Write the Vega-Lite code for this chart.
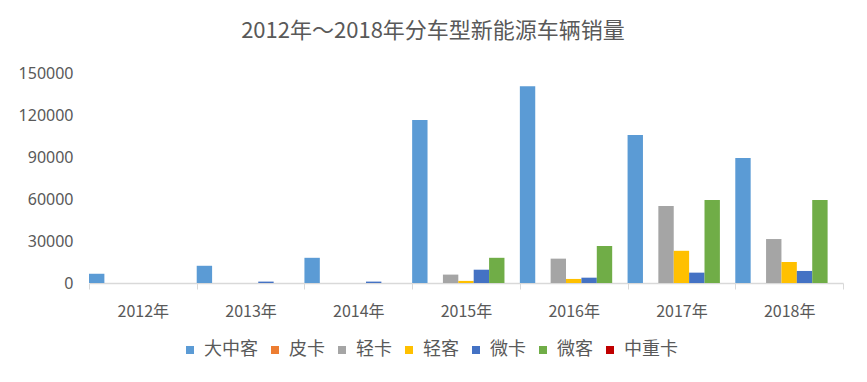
{
  "$schema": "https://vega.github.io/schema/vega-lite/v6.json",
  "width": 754,
  "height": 210,
  "autosize": "none",
  "padding": {"left": 89, "top": 73, "right": 24, "bottom": 99},
  "background": "white",
  "title": {
    "text": "2012年～2018年分车型新能源车辆销量",
    "anchor": "middle",
    "frame": "group",
    "dx": -33,
    "offset": 22,
    "font": "Noto Sans CJK SC",
    "fontSize": 22,
    "fontWeight": "normal",
    "color": "#595959"
  },
  "data": {
    "values": [
      {"year": "2012年", "type": "大中客", "sales": 6600},
      {"year": "2012年", "type": "皮卡", "sales": 0},
      {"year": "2012年", "type": "轻卡", "sales": 0},
      {"year": "2012年", "type": "轻客", "sales": 0},
      {"year": "2012年", "type": "微卡", "sales": 0},
      {"year": "2012年", "type": "微客", "sales": 0},
      {"year": "2012年", "type": "中重卡", "sales": 0},
      {"year": "2013年", "type": "大中客", "sales": 12300},
      {"year": "2013年", "type": "皮卡", "sales": 0},
      {"year": "2013年", "type": "轻卡", "sales": 0},
      {"year": "2013年", "type": "轻客", "sales": 0},
      {"year": "2013年", "type": "微卡", "sales": 1000},
      {"year": "2013年", "type": "微客", "sales": 0},
      {"year": "2013年", "type": "中重卡", "sales": 0},
      {"year": "2014年", "type": "大中客", "sales": 18000},
      {"year": "2014年", "type": "皮卡", "sales": 0},
      {"year": "2014年", "type": "轻卡", "sales": 0},
      {"year": "2014年", "type": "轻客", "sales": 0},
      {"year": "2014年", "type": "微卡", "sales": 1000},
      {"year": "2014年", "type": "微客", "sales": 0},
      {"year": "2014年", "type": "中重卡", "sales": 0},
      {"year": "2015年", "type": "大中客", "sales": 116500},
      {"year": "2015年", "type": "皮卡", "sales": 0},
      {"year": "2015年", "type": "轻卡", "sales": 6000},
      {"year": "2015年", "type": "轻客", "sales": 1500},
      {"year": "2015年", "type": "微卡", "sales": 9500},
      {"year": "2015年", "type": "微客", "sales": 18000},
      {"year": "2015年", "type": "中重卡", "sales": 0},
      {"year": "2016年", "type": "大中客", "sales": 140600},
      {"year": "2016年", "type": "皮卡", "sales": 0},
      {"year": "2016年", "type": "轻卡", "sales": 17400},
      {"year": "2016年", "type": "轻客", "sales": 2900},
      {"year": "2016年", "type": "微卡", "sales": 3800},
      {"year": "2016年", "type": "微客", "sales": 26500},
      {"year": "2016年", "type": "中重卡", "sales": 0},
      {"year": "2017年", "type": "大中客", "sales": 105700},
      {"year": "2017年", "type": "皮卡", "sales": 0},
      {"year": "2017年", "type": "轻卡", "sales": 55000},
      {"year": "2017年", "type": "轻客", "sales": 23000},
      {"year": "2017年", "type": "微卡", "sales": 7400},
      {"year": "2017年", "type": "微客", "sales": 59300},
      {"year": "2017年", "type": "中重卡", "sales": 0},
      {"year": "2018年", "type": "大中客", "sales": 89300},
      {"year": "2018年", "type": "皮卡", "sales": 0},
      {"year": "2018年", "type": "轻卡", "sales": 31400},
      {"year": "2018年", "type": "轻客", "sales": 15000},
      {"year": "2018年", "type": "微卡", "sales": 8600},
      {"year": "2018年", "type": "微客", "sales": 59300},
      {"year": "2018年", "type": "中重卡", "sales": 0}
    ]
  },
  "mark": {"type": "bar"},
  "encoding": {
    "x": {
      "field": "year",
      "type": "nominal",
      "sort": null,
      "scale": {"paddingInner": 0, "paddingOuter": 0},
      "axis": {
        "title": null,
        "labelAngle": 0,
        "tickBand": "extent",
        "tickSize": 6,
        "tickColor": "#D9D9D9",
        "tickWidth": 1,
        "domainColor": "#D9D9D9",
        "domainWidth": 1.5,
        "labelPadding": 14,
        "labelFont": "Noto Sans CJK SC",
        "labelFontSize": 16,
        "labelColor": "#595959"
      }
    },
    "xOffset": {
      "field": "type",
      "type": "nominal",
      "sort": ["大中客", "皮卡", "轻卡", "轻客", "微卡", "微客", "中重卡"],
      "scale": {"paddingInner": 0, "paddingOuter": 0}
    },
    "y": {
      "field": "sales",
      "type": "quantitative",
      "scale": {"domain": [0, 150000]},
      "axis": {
        "title": null,
        "format": "d",
        "values": [0, 30000, 60000, 90000, 120000, 150000],
        "grid": false,
        "domain": false,
        "ticks": false,
        "labelPadding": 16,
        "labelFont": "Noto Sans",
        "labelFontSize": 16,
        "labelColor": "#595959"
      }
    },
    "color": {
      "field": "type",
      "type": "nominal",
      "sort": ["大中客", "皮卡", "轻卡", "轻客", "微卡", "微客", "中重卡"],
      "scale": {
        "domain": ["大中客", "皮卡", "轻卡", "轻客", "微卡", "微客", "中重卡"],
        "range": ["#5B9BD5", "#ED7D31", "#A5A5A5", "#FFC000", "#4472C4", "#70AD47", "#C00000"]
      },
      "legend": {
        "title": null,
        "orient": "none",
        "direction": "horizontal",
        "legendX": 92,
        "legendY": 268,
        "symbolType": "square",
        "symbolSize": 64,
        "symbolStrokeWidth": 0,
        "labelFont": "Noto Sans CJK SC",
        "labelFontSize": 18,
        "labelColor": "#595959",
        "labelOffset": 5,
        "columnPadding": 8
      }
    }
  },
  "config": {
    "view": {"stroke": null}
  }
}
